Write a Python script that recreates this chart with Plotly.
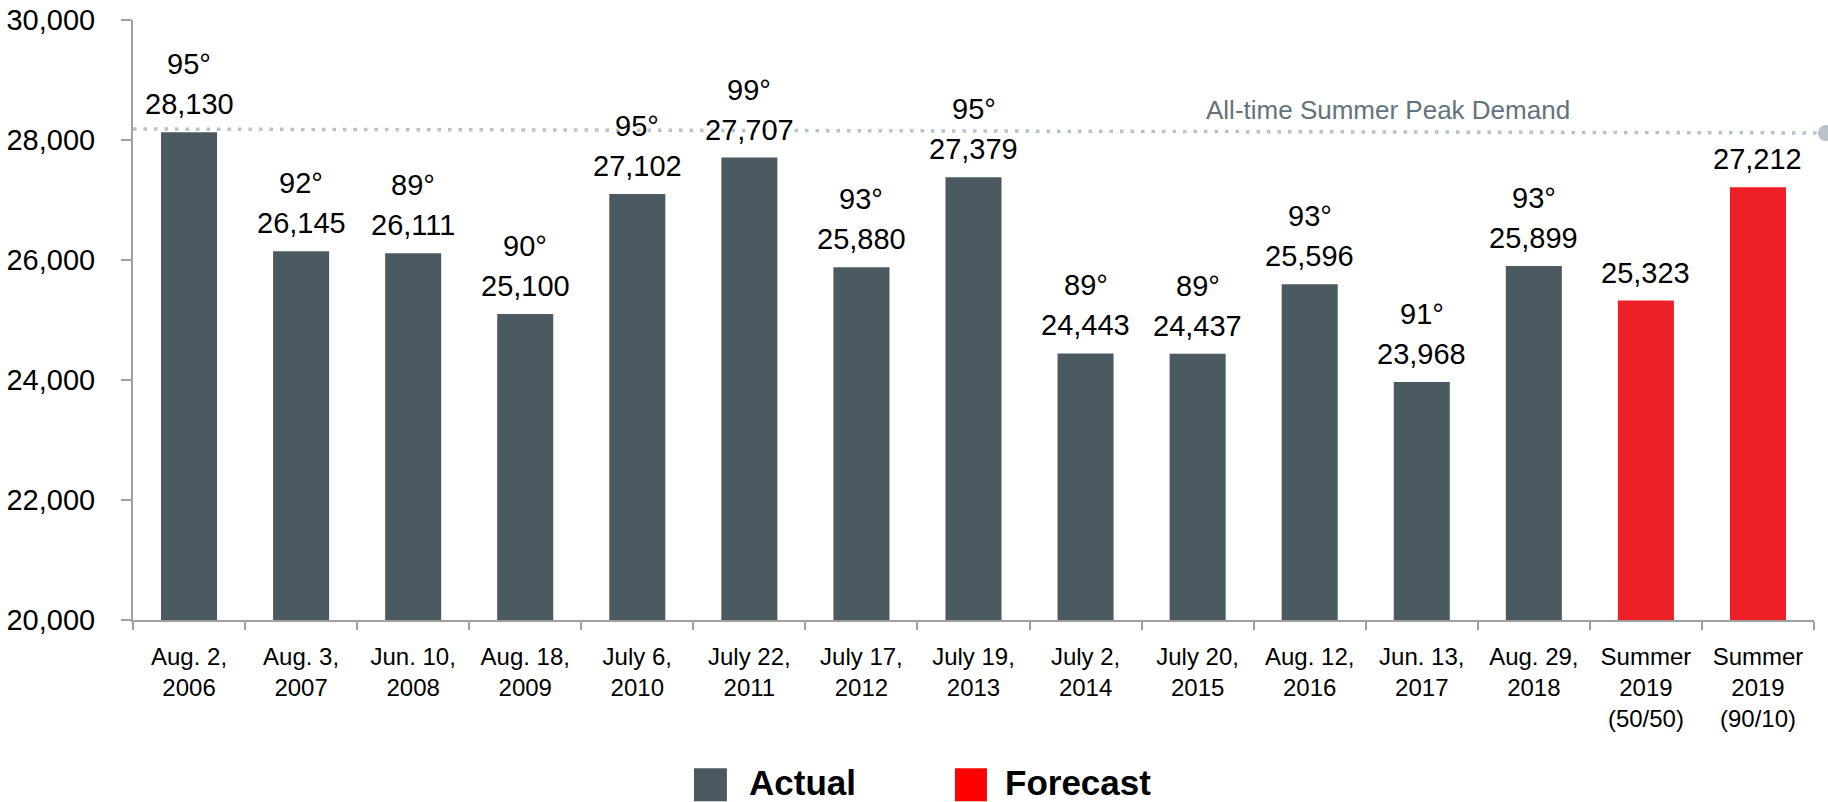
import plotly.graph_objects as go

categories = ["Aug. 2,<br>2006", "Aug. 3,<br>2007", "Jun. 10,<br>2008", "Aug. 18,<br>2009",
              "July 6,<br>2010", "July 22,<br>2011", "July 17,<br>2012", "July 19,<br>2013",
              "July 2,<br>2014", "July 20,<br>2015", "Aug. 12,<br>2016", "Jun. 13,<br>2017",
              "Aug. 29,<br>2018", "Summer<br>2019<br>(50/50)", "Summer<br>2019<br>(90/10)"]
peak_mw = [28130, 26145, 26111, 25100, 27102, 27707, 25880, 27379,
           24443, 24437, 25596, 23968, 25899, 25323, 27212]
temps_f = [95, 92, 89, 90, 95, 99, 93, 95, 89, 89, 93, 91, 93, None, None]
kind = ["Actual"] * 13 + ["Forecast"] * 2
# dotted reference line (drawn very slightly sloped in the original)
peak_line_start = 28183
peak_line_end = 28117
peak_label = "All-time Summer Peak Demand"
y_ticks = [20000, 22000, 24000, 26000, 28000, 30000]

FONT = "Liberation Sans, Arial, sans-serif"
GRAY = "#4b5961"
RED = "#ed2027"
colors = {"Actual": GRAY, "Forecast": RED}
legend_colors = {"Actual": GRAY, "Forecast": "#ff0000"}

fig = go.Figure()
fig.add_trace(go.Bar(
    x=categories, y=peak_mw,
    marker=dict(color=[colors[k] for k in kind], line=dict(width=0)),
    showlegend=False, hoverinfo="x+y",
))

annotations = []
for c, v, t in zip(categories, peak_mw, temps_f):
    annotations.append(dict(x=c, y=v, xref="x", yref="y", text=f"{v:,}", showarrow=False,
                            yanchor="middle", yshift=28, font=dict(size=29, color="black", family=FONT)))
    if t is not None:
        annotations.append(dict(x=c, y=v, xref="x", yref="y", text=f"{t}°", showarrow=False,
                                yanchor="middle", yshift=68, font=dict(size=29, color="black", family=FONT)))

annotations.append(dict(x=0.7466, xref="paper", y=peak_line_start, yref="y", text=peak_label,
                        showarrow=False, xanchor="center", yanchor="middle", yshift=19,
                        font=dict(size=26, color="#62737c", family=FONT)))

shapes = [
    dict(type="line", xref="paper", yref="y", x0=0, x1=1.0048, y0=peak_line_start, y1=peak_line_end,
         line=dict(color="#b8c2c8", width=3.5, dash="3.5px,7px")),
    dict(type="circle", xref="paper", yref="y", xsizemode="pixel", ysizemode="pixel",
         xanchor=1.0071, yanchor=peak_line_end, x0=-8, x1=8, y0=-8, y1=8,
         fillcolor="#b8c2c8", line=dict(width=0)),
]

# custom legend (large square swatches)
legend_pos = {"Actual": (0.3337, 0.3533, 0.3653), "Forecast": (0.4890, 0.5080, 0.5176)}
for name, (x0, x1, xt) in legend_pos.items():
    shapes.append(dict(type="rect", xref="paper", yref="paper", x0=x0, x1=x1, y0=-0.302, y1=-0.247,
                       fillcolor=legend_colors[name], line=dict(width=0)))
    annotations.append(dict(x=xt, y=-0.27, xref="paper", yref="paper", text=f"<b>{name}</b>",
                            showarrow=False, xanchor="left", yanchor="middle",
                            font=dict(size=35, color="black", family=FONT)))

fig.update_layout(
    width=1828, height=802,
    margin=dict(l=133, r=14, t=20, b=182),
    paper_bgcolor="white", plot_bgcolor="white",
    bargap=0.5,
    font=dict(family=FONT, color="black"),
    annotations=annotations, shapes=shapes,
    showlegend=False,
)
fig.update_xaxes(
    type="category", range=[-0.5, 14.5], automargin=False, tickangle=0,
    showline=True, linecolor="#a0a0a0", linewidth=2,
    ticks="outside", tickson="boundaries", ticklen=8, tickcolor="#a0a0a0", tickwidth=2,
    tickfont=dict(size=24, family=FONT, color="black"),
    ticklabelstandoff=14, showgrid=False, zeroline=False,
)
fig.update_yaxes(
    range=[20000, 30000], tickvals=y_ticks, ticktext=[f"{t:,}" for t in y_ticks],
    automargin=False,
    showline=True, linecolor="#a0a0a0", linewidth=2,
    ticks="outside", ticklen=10, tickcolor="#a0a0a0", tickwidth=2,
    tickfont=dict(size=29, family=FONT, color="black"),
    ticklabelstandoff=20, showgrid=False, zeroline=False,
)

fig.write_html("out.html", config={"displayModeBar": False},
               post_script="document.body.style.margin='0';document.body.style.overflow='hidden';")
